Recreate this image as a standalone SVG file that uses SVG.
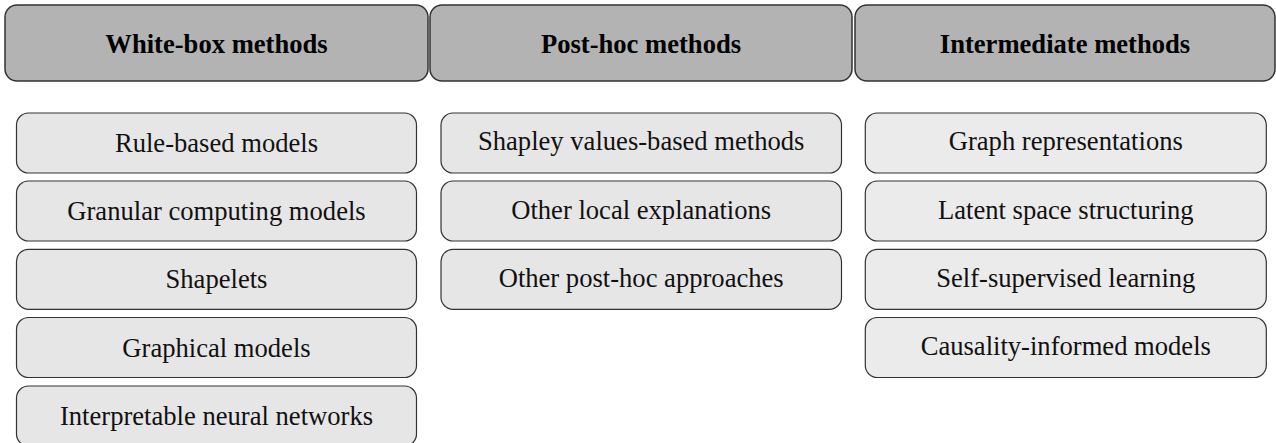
<svg xmlns="http://www.w3.org/2000/svg" width="1276" height="443" viewBox="0 0 1276 443">
<style>
.hdr{fill:#b3b3b3;stroke:#333333;stroke-width:1.5}
.sub{fill:#e6e6e6;stroke:#333333;stroke-width:1.2}
.sub3{fill:#ebebeb;stroke:#333333;stroke-width:1.2}
text{font-family:'Liberation Serif','DejaVu Serif',serif;font-size:26.6px;text-anchor:middle}
.ht{font-weight:bold;fill:#000}
.st{fill:#111}
</style>
<rect width="1276" height="443" fill="#ffffff"/>
<g font-family="Liberation Serif, DejaVu Serif, serif">
<g id="h1"><rect class="hdr" x="5" y="5" width="423" height="76" rx="12"/><text class="ht" x="216.5" y="52.5">White-box methods</text></g>
<g id="h2"><rect class="hdr" x="430" y="5" width="422" height="76" rx="12"/><text class="ht" x="641" y="52.5">Post-hoc methods</text></g>
<g id="h3"><rect class="hdr" x="855" y="5" width="420" height="76" rx="12"/><text class="ht" x="1065" y="52.5">Intermediate methods</text></g>

<g id="w1"><rect class="sub" x="16.5" y="113" width="400" height="60" rx="12"/><text class="st" x="216.5" y="152">Rule-based models</text></g>
<g id="w2"><rect class="sub" x="16.5" y="181" width="400" height="60" rx="12"/><text class="st" x="216.5" y="220">Granular computing models</text></g>
<g id="w3"><rect class="sub" x="16.5" y="249.3" width="400" height="60" rx="12"/><text class="st" x="216.5" y="288.3">Shapelets</text></g>
<g id="w4"><rect class="sub" x="16.5" y="317.5" width="400" height="60" rx="12"/><text class="st" x="216.5" y="356.5">Graphical models</text></g>
<g id="w5"><rect class="sub" x="16.5" y="386" width="400" height="60" rx="12"/><text class="st" x="216.5" y="425">Interpretable neural networks</text></g>

<g id="p1"><rect class="sub" x="441" y="113" width="400.5" height="60" rx="12"/><text class="st" x="641.2" y="150">Shapley values-based methods</text></g>
<g id="p2"><rect class="sub" x="441" y="181" width="400.5" height="60" rx="12"/><text class="st" x="641.2" y="218.5">Other local explanations</text></g>
<g id="p3"><rect class="sub" x="441" y="249.3" width="400.5" height="60" rx="12"/><text class="st" x="641.2" y="286.8">Other post-hoc approaches</text></g>

<g id="i1"><rect class="sub3" x="865.3" y="113" width="401" height="60" rx="12"/><text class="st" x="1065.8" y="150">Graph representations</text></g>
<g id="i2"><rect class="sub3" x="865.3" y="181" width="401" height="60" rx="12"/><text class="st" x="1065.8" y="218.5">Latent space structuring</text></g>
<g id="i3"><rect class="sub3" x="865.3" y="249.3" width="401" height="60" rx="12"/><text class="st" x="1065.8" y="286.8">Self-supervised learning</text></g>
<g id="i4"><rect class="sub3" x="865.3" y="317.5" width="401" height="60" rx="12"/><text class="st" x="1065.8" y="355">Causality-informed models</text></g>
</g>
<g id="connectors"></g>
</svg>
